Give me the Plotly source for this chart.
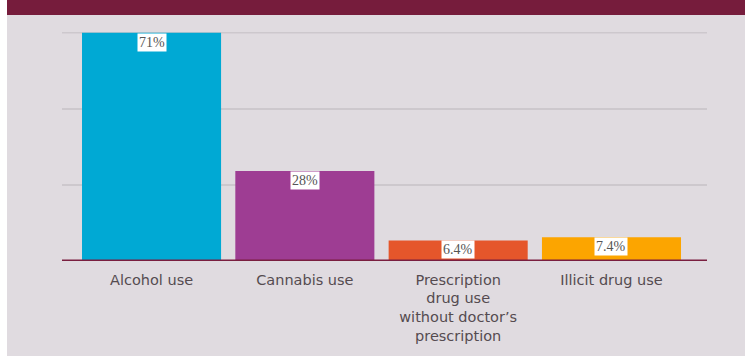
import plotly.graph_objects as go

categories = ["Alcohol use", "Cannabis use",
              "Prescription<br>drug use<br>without doctor’s<br>prescription",
              "Illicit drug use"]
values = [71, 28, 6.4, 7.4]
value_labels = ["71%", "28%", "6.4%", "7.4%"]
colors = ["#00a9d4", "#9e3d93", "#e5562b", "#fca500"]
grid_vals = [0, 71 / 3, 2 * 71 / 3, 71]

BG = "#e0dbe0"
MAROON = "#761c3c"
GRID = "#cdc8cd"

fig = go.Figure()
fig.add_trace(go.Bar(x=categories, y=values, marker_color=colors,
                     marker_line_width=0, width=0.907, hoverinfo="skip"))

for c, v, t in zip(categories, values, value_labels):
    fig.add_annotation(x=c, y=v, text=t, showarrow=False, yanchor="top",
                       xanchor="center", bgcolor="white", borderpad=1,
                       font=dict(family="Liberation Serif", size=14, color="#555555"))

# top gridline (drawn explicitly so it is not dropped at the range edge)
fig.add_shape(type="line", xref="paper", yref="y", x0=0, x1=1,
              y0=grid_vals[-1], y1=grid_vals[-1],
              line=dict(color=GRID, width=1.5), layer="below")
# top band
fig.add_shape(type="rect", xref="paper", yref="paper", x0=-0.0853, x1=1.06,
              y0=1.0742, y1=1.15, fillcolor=MAROON, line_width=0, layer="above")
# left white strip
fig.add_shape(type="rect", xref="paper", yref="paper", x0=-0.1, x1=-0.0853,
              y0=-0.42, y1=1.15, fillcolor="white", line_width=0, layer="above")
# baseline
fig.add_shape(type="line", xref="paper", yref="y", x0=0, x1=1, y0=0, y1=0,
              line=dict(color="#7a1f40", width=3), layer="above")

fig.update_layout(
    width=745, height=356,
    margin=dict(l=62, r=38, t=32, b=95),
    paper_bgcolor=BG, plot_bgcolor=BG,
    showlegend=False,
    xaxis=dict(range=[-0.584, 3.623], showgrid=False, showline=False,
               ticks="", ticklabelstandoff=8, automargin=False,
               tickfont=dict(family="DejaVu Sans", size=14.5, color="#554b50"),
               fixedrange=True),
    yaxis=dict(range=[0, 71.2], tickvals=grid_vals, showticklabels=False,
               showgrid=True, gridcolor=GRID, gridwidth=1.5, automargin=False,
               zeroline=False, fixedrange=True),
)

fig.write_html("out.html", config={"displayModeBar": False},
               post_script="document.body.style.margin='0';document.body.style.overflow='hidden';")
